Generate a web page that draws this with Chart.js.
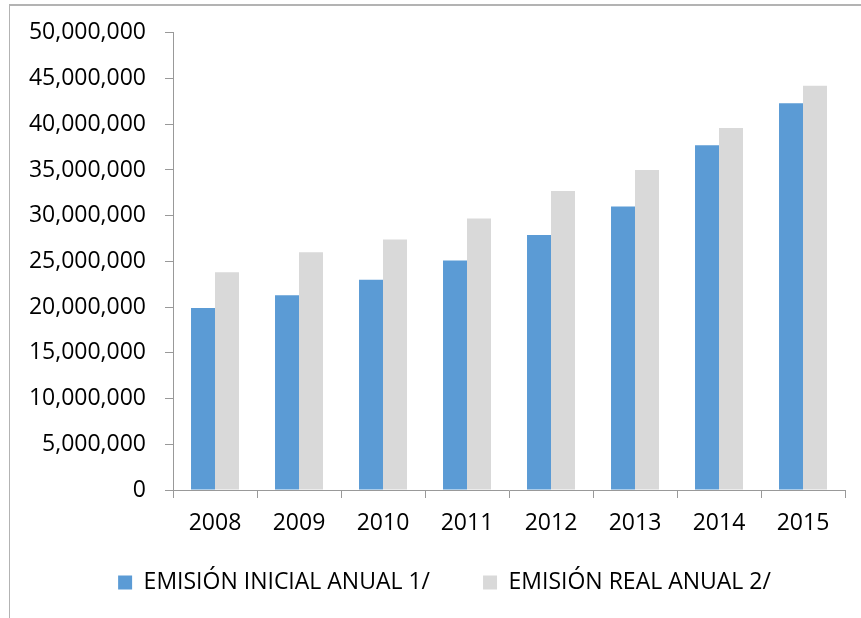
<!DOCTYPE html>
<html>
<head>
<meta charset="utf-8">
<script src="https://cdn.jsdelivr.net/npm/chart.js@4"></script>
<style>
  body { margin: 0; background: #fff; }
  #wrap { position: relative; width: 861px; height: 618px; overflow: hidden; }
  #frame {
    position: absolute; left: 9px; top: 4px; width: 900px; height: 700px;
    border-left: 1px solid #b3b3b3; border-top: 2px solid #b3b3b3;
  }
  #emision { position: absolute; left: 0; top: 0; }
</style>
</head>
<body>
<div id="wrap">
  <div id="frame"></div>
  <canvas id="emision" width="861" height="618"></canvas>
</div>
<script>
const years = ['2008', '2009', '2010', '2011', '2012', '2013', '2014', '2015'];
const emisionInicial = [19900000, 21300000, 23000000, 25100000, 27900000, 31000000, 37700000, 42300000];
const emisionReal = [23800000, 26000000, 27400000, 29700000, 32700000, 35000000, 39600000, 44200000];
const seriesNames = ['EMISIÓN INICIAL ANUAL 1/', 'EMISIÓN REAL ANUAL 2/'];

const font = { family: 'Open Sans', size: 23 };
const axisGray = '#999999';

const emision = document.getElementById('emision');

// mueve la leyenda un poco a la derecha y hacia arriba, más cerca de los años
const legendShift = {
  id: 'legendShift',
  afterLayout(chart, args, opts) {
    const lg = chart.legend;
    lg.left += opts.dx;
    lg.right += opts.dx;
    lg.top += opts.dy;
    lg.bottom += opts.dy;
  }
};

new Chart(emision, {
  type: 'bar',
  data: {
    labels: years,
    datasets: [
      {
        label: seriesNames[0],
        data: emisionInicial,
        backgroundColor: '#5b9bd5',
        categoryPercentage: 0.571,
        barPercentage: 1
      },
      {
        label: seriesNames[1],
        data: emisionReal,
        backgroundColor: '#d9d9d9',
        categoryPercentage: 0.571,
        barPercentage: 1
      }
    ]
  },
  options: {
    responsive: false,
    animation: false,
    layout: {
      padding: { left: 0, right: 16, top: 31, bottom: -6 }
    },
    scales: {
      y: {
        min: 0,
        max: 50000000,
        afterFit: (scale) => { scale.width = 173; },
        border: { color: axisGray, width: 1 },
        grid: { drawOnChartArea: false, tickLength: 8, color: axisGray },
        ticks: {
          stepSize: 5000000,
          padding: 19,
          color: '#000',
          font: font,
          callback: (v) => v.toLocaleString('en-US')
        }
      },
      x: {
        afterFit: (scale) => { scale.height = 48; },
        border: { color: axisGray, width: 1 },
        grid: { drawOnChartArea: false, tickLength: 8, color: axisGray, offset: true },
        ticks: {
          padding: 12,
          color: '#000',
          font: font,
          maxRotation: 0
        }
      }
    },
    plugins: {
      legend: {
        position: 'bottom',
        labels: {
          boxWidth: 14,
          boxHeight: 14,
          padding: 53,
          color: '#000',
          font: font
        }
      },
      legendShift: { dx: 22, dy: -20 },
      tooltip: { enabled: false }
    }
  },
  plugins: [legendShift]
});
</script>
</body>
</html>
